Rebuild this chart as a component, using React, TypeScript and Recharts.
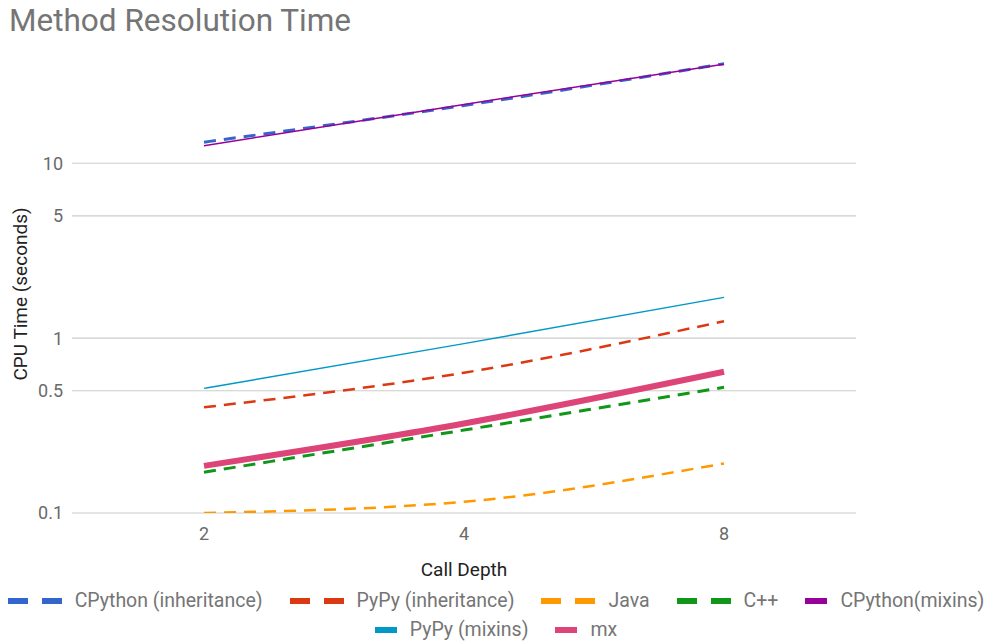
import {FC} from "react";
import {LineChart, Line, XAxis, YAxis, ReferenceLine, Label} from "recharts";

const depths = ["2", "4", "8"];
const cpythonInheritance = [13.2, 21.4, 37.1];
const pypyInheritance = [0.402, 0.634, 1.25];
const java = [0.1, 0.116, 0.192];
const cpp = [0.171, 0.298, 0.523];
const cpythonMixins = [12.6, 21.7, 36.8];
const pypyMixins = [0.516, 0.93, 1.71];
const mx = [0.186, 0.325, 0.642];
const yTicks = [0.1, 0.5, 1, 5, 10];

const series = [
  {key: "cpyInh", name: "CPython (inheritance)", values: cpythonInheritance, color: "#3366cc", width: 3, dash: "12 8"},
  {key: "pypyInh", name: "PyPy (inheritance)", values: pypyInheritance, color: "#dc3912", width: 2.5, dash: "12 8"},
  {key: "java", name: "Java", values: java, color: "#ff9900", width: 2.5, dash: "12 8"},
  {key: "cpp", name: "C++", values: cpp, color: "#109618", width: 3, dash: "12 8"},
  {key: "cpyMix", name: "CPython(mixins)", values: cpythonMixins, color: "#990099", width: 1.5, dash: undefined},
  {key: "pypyMix", name: "PyPy (mixins)", values: pypyMixins, color: "#0099c6", width: 1.5, dash: undefined},
  {key: "mx", name: "mx", values: mx, color: "#dd4477", width: 6, dash: undefined},
];

const data = depths.map((d, i) => {
  const row: Record<string, string | number> = {depth: d};
  series.forEach((s) => {
    row[s.key] = s.values[i];
  });
  return row;
});

const font = "Roboto, 'Noto Sans', sans-serif";

const LegendIcon: FC<{color: string; dashed: boolean}> = ({color, dashed}) => (
  <svg width={dashed ? 54 : 22} height={6} style={{marginRight: 13, flexShrink: 0}}>
    {dashed ? (
      <>
        <rect x={0} y={0} width={20} height={6} fill={color}/>
        <rect x={34} y={0} width={20} height={6} fill={color}/>
      </>
    ) : (
      <rect x={0} y={0} width={22} height={6} fill={color}/>
    )}
  </svg>
);

const LegendRow: FC<{items: typeof series; top: number}> = ({items, top}) => (
  <div style={{
    position: "absolute", left: 0, top, width: 992, height: 24, display: "flex",
    justifyContent: "center", alignItems: "center", fontFamily: font, fontSize: 19.5,
    color: "#757575", lineHeight: "24px", whiteSpace: "nowrap",
  }}>
    {items.map((s) => (
      <div key={s.key} style={{display: "flex", alignItems: "center", margin: "0 13.5px", flexShrink: 0}}>
        <LegendIcon color={s.color} dashed={!!s.dash}/>
        <span>{s.name}</span>
      </div>
    ))}
  </div>
);

const App: FC = () => {
  return (
    <div style={{position: "absolute", left: 0, top: 0, width: 992, height: 643, background: "#fff"}}>
      <div style={{
        position: "absolute", left: 9, top: 5, fontFamily: font, fontSize: 31.5, lineHeight: "31px",
        color: "#757575", whiteSpace: "nowrap",
      }}>
        Method Resolution Time
      </div>
      <LineChart width={992} height={643} data={data}
                 margin={{top: 41, right: 136, bottom: 100, left: 0}}
                 style={{fontFamily: font}}>
        <XAxis dataKey="depth" axisLine={false} tickLine={false} tickSize={0} tickMargin={14}
               padding={{left: 132, right: 132}} height={30}
               tick={{fill: "#6a6a6a", fontSize: 18}}>
          <Label value="Call Depth" position="insideBottom" offset={-33}
                 style={{fill: "#222", fontSize: 19}}/>
        </XAxis>
        <YAxis scale="log" domain={[0.1, 50]} ticks={yTicks} allowDataOverflow
               axisLine={false} tickLine={false} tickSize={0} tickMargin={9} width={72}
               tick={{fill: "#6a6a6a", fontSize: 18}}>
          <Label value="CPU Time (seconds)" angle={-90} position="insideLeft" offset={20}
                 dy={17} style={{fill: "#222", fontSize: 19, textAnchor: "middle"}}/>
        </YAxis>
        {yTicks.map((t) => (
          <ReferenceLine key={t} y={t} stroke="#cccccc" strokeWidth={1.2}/>
        ))}
        {series.map((s) => (
          <Line key={s.key} type="monotone" dataKey={s.key} name={s.name} stroke={s.color}
                strokeWidth={s.width} strokeDasharray={s.dash} dot={false}
                activeDot={false} isAnimationActive={false}/>
        ))}
      </LineChart>
      <LegendRow items={series.slice(0, 5)} top={589}/>
      <LegendRow items={series.slice(5)} top={618}/>
    </div>
  );
};

export default App;
